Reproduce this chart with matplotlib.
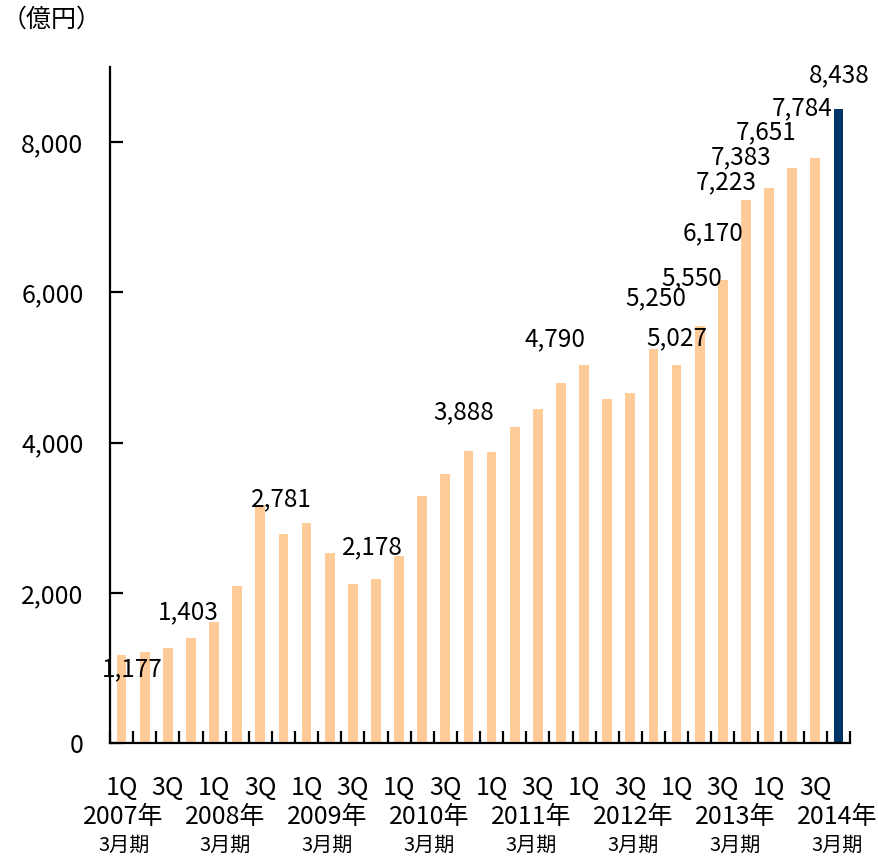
import numpy as np
import matplotlib
matplotlib.use('Agg')
import matplotlib.pyplot as plt
import matplotlib.transforms as mtransforms

plt.rcParams['font.family'] = ['Noto Sans CJK JP', 'DejaVu Sans']

# quarterly balance, 2007/3 1Q .. 2014/3 4Q (億円)
values = [1177, 1212, 1265, 1403, 1610, 2090, 3170, 2781,
          2930, 2530, 2120, 2178, 2490, 3290, 3580, 3888,
          3880, 4210, 4450, 4790, 5035, 4580, 4660, 5250,
          5027, 5550, 6170, 7223, 7383, 7651, 7784, 8438]
quarter_labels = ['1Q', '', '3Q', ''] * 8
years = ['2007年', '2008年', '2009年', '2010年', '2011年', '2012年', '2013年', '2014年']
labelled = [0, 3, 7, 11, 15, 19, 23, 24, 25, 26, 27, 28, 29, 30, 31]

# hand placed label offsets (pixels from bar top)
label_offsets = {0: (11, 15), 3: (-3, -25), 7: (-2, -35), 11: (-4, -32),
                 15: (-5, -39), 19: (-6, -44), 23: (2, -50), 24: (0, -27),
                 25: (-8, -48), 26: (-10, -46), 27: (-20, -18), 28: (-28, -31),
                 29: (-26, -36), 30: (-13, -50), 31: (1, -34)}

peach = '#FFCC99'
navy = '#003366'
fs = 17.5

fig = plt.figure(figsize=(8.79, 8.56), dpi=100)
ax = fig.add_axes([110 / 879, 1 - 743 / 856, 740 / 879, 676 / 856])

x = np.arange(len(values))
colors = [peach] * (len(values) - 1) + [navy]
ax.bar(x, values, width=0.42, color=colors, zorder=2)

ax.set_xlim(-0.5, len(values) - 0.5)
ax.set_ylim(0, 9000)

ax.spines['top'].set_visible(False)
ax.spines['right'].set_visible(False)
ax.spines['left'].set_linewidth(1.6)
ax.spines['bottom'].set_linewidth(1.6)

ax.set_yticks([0, 2000, 4000, 6000, 8000])
ax.set_yticklabels(['0', '2,000', '4,000', '6,000', '8,000'])
ax.tick_params(axis='y', direction='in', length=9, width=1.6, pad=19, labelsize=18)

ax.set_xticks(x)
ax.set_xticklabels([])
ax.tick_params(axis='x', which='major', length=0)
ax.set_xticks(np.arange(-0.5, len(values), 1.0), minor=True)
ax.tick_params(axis='x', which='minor', direction='in', length=9, width=1.6)

for i in labelled:
    dx, dy = label_offsets[i]
    ax.annotate(f'{values[i]:,}', (x[i], values[i]),
                xytext=(dx * 0.72, -dy * 0.72), textcoords='offset points',
                ha='center', va='center', fontsize=fs, zorder=3)

trans = mtransforms.blended_transform_factory(ax.transData, ax.transAxes)
for i, q in enumerate(quarter_labels):
    if q:
        ax.text(x[i], -0.066, q, transform=trans, ha='center', va='center', fontsize=18)
for xp, yr in zip(np.linspace(0.09, 30.93, len(years)), years):
    ax.text(xp, -0.110, yr, transform=trans, ha='center', va='center', fontsize=18)
    ax.text(xp, -0.152, '3月期', transform=trans, ha='center', va='center', fontsize=14.5)

fig.text(2 / 879, 1 - 20 / 856, '（億円）', ha='left', va='center', fontsize=18)

fig.savefig('out.png', dpi=100, facecolor='white')
